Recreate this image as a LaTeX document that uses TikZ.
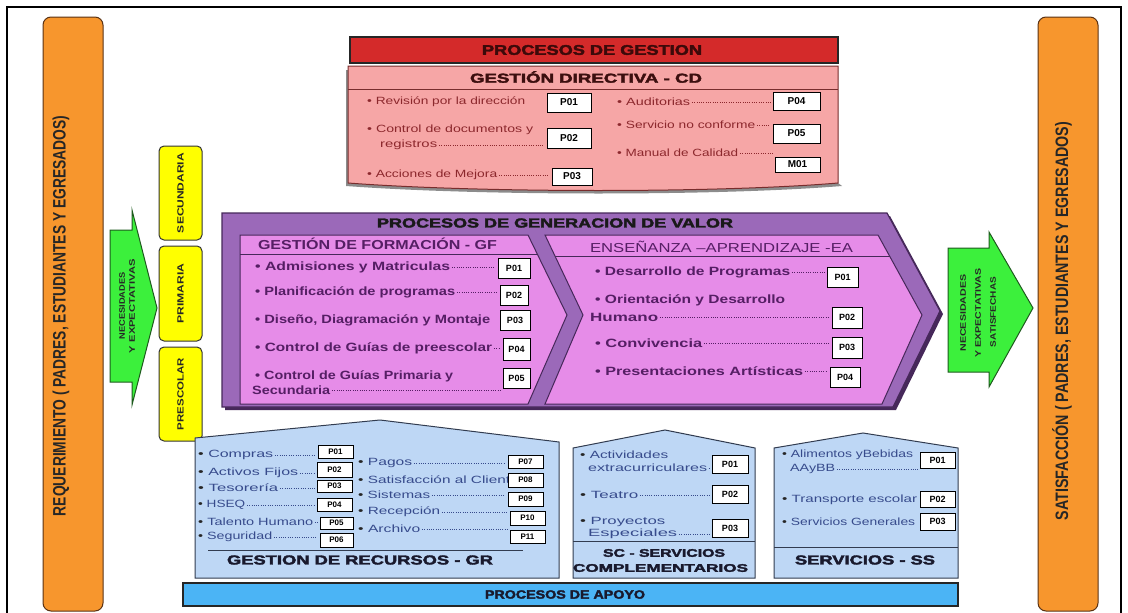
\documentclass[tikz,border=0pt]{standalone}
\usepackage{fontspec}
\setmainfont{Liberation Sans}
\newfontfamily\heavy[FakeBold=2.5]{Liberation Sans}
\usepackage{graphicx}
\usetikzlibrary{calc}
\newsavebox\fitbox
\newcommand\fitto[2]{\sbox\fitbox{#2}\resizebox{#1}{\ht\fitbox}{\usebox\fitbox}}
\newcommand\bl{{\color{black!85}•}}
\definecolor{orng}{RGB}{247,150,45}
\definecolor{orngdk}{RGB}{90,50,20}
\definecolor{grn}{RGB}{60,240,60}
\definecolor{grndk}{RGB}{30,90,30}
\definecolor{yel}{RGB}{255,255,0}
\definecolor{redbar}{RGB}{212,42,42}
\definecolor{pinkbox}{RGB}{246,166,166}
\definecolor{pinkdk}{RGB}{120,45,45}
\definecolor{pinktxt}{RGB}{140,40,45}
\definecolor{purp}{RGB}{155,105,185}
\definecolor{purpdk}{RGB}{70,40,90}
\definecolor{orchid}{RGB}{230,140,232}
\definecolor{purptxt}{RGB}{85,30,100}
\definecolor{lblue}{RGB}{190,215,245}
\definecolor{bluedk}{RGB}{50,60,80}
\definecolor{bluetxt}{RGB}{55,75,140}
\definecolor{bluebar}{RGB}{75,180,245}
\definecolor{ttldark}{RGB}{25,25,45}
\tikzset{
 obar/.style={draw=orngdk, line width=1pt, fill=orng, rounded corners=8pt, inner sep=0pt},
 ybox/.style={draw=black!80, line width=1pt, fill=yel, rounded corners=5pt, inner sep=0pt, rotate=90, font=\bfseries\fontsize{9}{9}\selectfont, text=black!85},
 garrow/.style={draw=grndk, line width=1pt, fill=grn},
 gtext/.style={inner sep=0pt, rotate=90, font=\bfseries\fontsize{8}{8}\selectfont, text=black!85},
 vtext/.style={inner sep=0pt, rotate=90, font=\bfseries\fontsize{18}{18}\selectfont, text=black!85},
 ttl/.style={inner sep=0pt, font=\heavy\bfseries\fontsize{13}{13}\selectfont, text=ttldark},
 pitem/.style={anchor=west, inner sep=0pt, text=pinktxt, font=\fontsize{10.5}{12}\selectfont},
 vitem/.style={anchor=west, inner sep=0pt, text=purptxt, font=\bfseries\fontsize{12}{14}\selectfont},
 bitem/.style={anchor=west, inner sep=0pt, text=bluetxt, font=\fontsize{10.5}{12}\selectfont},
 pbox/.style={draw=black, line width=1pt, fill=white, inner sep=0pt, text=black, font=\bfseries\fontsize{9}{9}\selectfont},
 leader/.style={dash pattern=on 0.7pt off 1.6pt, line width=0.7pt, shorten <=1.5pt, shorten >=2pt},
 sepline/.style={line width=0.8pt},
}
\newcommand\pb[6][]{\node[pbox,#1,minimum width=#4pt,minimum height=#5pt] (#2) at (#3) {#6};}
\newcommand\itm[5]{\node[#1] (#2) at (#3) {\fitto{#4pt}{#5}};}
\newcommand\ld[3][]{\draw[leader,#1] (#2.east) -- (#2.east -| #3.west);}
\begin{document}
\begin{tikzpicture}[x=1pt,y=-1pt]
\useasboundingbox (0,0) rectangle (1128,613);
% outer frame
\draw[line width=1.2pt] (7,625) -- (7,7) -- (1121,7) -- (1121,625);
% side bars
\node[obar, minimum width=60pt, minimum height=594pt] (req) at (73,314) {};
\node[vtext] (reqt) at (61,316) {\fitto{400pt}{REQUERIMIENTO ( PADRES, ESTUDIANTES Y EGRESADOS)}};
\node[obar, minimum width=60pt, minimum height=594pt] (sat) at (1068,314) {};
\node[vtext] (satt) at (1062,321) {\fitto{398pt}{SATISFACCIÓN ( PADRES, ESTUDIANTES Y EGRESADOS)}};
% green arrows
\draw[garrow] (110,230) -- (132,230) -- (132,210) -- (157,308) -- (132,405) -- (132,382) -- (110,382) -- cycle;
\node[gtext] (ga1) at (122,306) {\fitto{67pt}{NECESIDADES}};
\node[gtext] (ga2) at (132,306) {\fitto{94pt}{Y EXPECTATIVAS}};
\draw[garrow] (948,248) -- (989,248) -- (989,232) -- (1033,308) -- (989,387) -- (989,372) -- (948,372) -- cycle;
\node[gtext] (gb1) at (963,313) {\fitto{77pt}{NECESIDADES}};
\node[gtext] (gb2) at (978,313) {\fitto{89pt}{Y EXPECTATIVAS}};
\node[gtext] (gb3) at (993,312) {\fitto{70pt}{SATISFECHAS}};
% yellow level boxes
\node[ybox, minimum width=94pt, minimum height=43pt] (sec) at (180.5,193) {\fitto{80pt}{SECUNDARIA}};
\node[ybox, minimum width=95pt, minimum height=43pt] (pri) at (180.5,293.5) {\fitto{60pt}{PRIMARIA}};
\node[ybox, minimum width=94pt, minimum height=43pt] (pre) at (180.5,394) {\fitto{72pt}{PRESCOLAR}};
% ---------- PROCESOS DE GESTION
\draw[fill=redbar, draw=black!85, line width=1.6pt] (350,37) rectangle (838,63);
\node[ttl, font=\heavy\bfseries\fontsize{14}{14}\selectfont, text={rgb,255:red,60;green,10;blue,10}] (pg) at (592,50) {\fitto{220pt}{PROCESOS DE GESTION}};
\fill[black!45] (346,70) -- (346,186) .. controls (480,196) and (720,196) .. (842,186) -- (838,183) .. controls (720,193) and (480,193) .. (348,183) -- (348,70) -- cycle;
\draw[fill=pinkbox, draw=pinkdk, line width=1pt] (348,66) -- (838,66) -- (838,183) .. controls (720,193) and (480,193) .. (348,183) -- cycle;
\draw[sepline, pinkdk] (348,89) -- (838,89);
\node[ttl, text={rgb,255:red,60;green,15;blue,15}] (cd) at (586,77) {\fitto{232pt}{GESTIÓN DIRECTIVA - CD}};
\itm{pitem}{cd1}{367,102}{158}{• Revisión por la dirección}
\itm{pitem}{cd2}{367,130}{166}{• Control de documentos y}
\itm{pitem}{cd2b}{380,145}{57}{registros}
\itm{pitem}{cd3}{367,175}{130}{• Acciones de Mejora}
\itm{pitem}{cd4}{617,102}{73}{• Auditorias}
\itm{pitem}{cd5}{617,125}{138}{• Servicio no conforme}
\itm{pitem}{cd6}{617,153}{121}{• Manual de Calidad}
\pb[font=\bfseries\fontsize{10}{10}\selectfont]{cdp1}{569,102.5}{44}{19}{P01}
\pb[font=\bfseries\fontsize{10}{10}\selectfont]{cdp2}{569,138}{44}{20}{P02}
\pb[font=\bfseries\fontsize{10}{10}\selectfont]{cdp3}{572,176.5}{40}{17}{P03}
\pb[font=\bfseries\fontsize{10}{10}\selectfont]{cdp4}{796.5,101}{47}{18}{P04}
\pb[font=\bfseries\fontsize{10}{10}\selectfont]{cdp5}{796.5,133.5}{47}{19}{P05}
\pb[font=\bfseries\fontsize{10}{10}\selectfont]{cdm1}{797.5,164.5}{45}{15}{M01}
\ld[pinktxt]{cd2b}{cdp2}
\ld[pinktxt]{cd3}{cdp3}
\ld[pinktxt]{cd4}{cdp4}
\ld[pinktxt]{cd5}{cdp5}
\ld[pinktxt]{cd6}{cdm1}
% ---------- PROCESOS DE GENERACION DE VALOR
\fill[purpdk] (225,216) -- (890,216) -- (943,314) -- (896,410) -- (225,410) -- cycle;
\draw[fill=purp, draw=purpdk, line width=1.2pt] (222,213) -- (887,213) -- (940,311) -- (893,407) -- (222,407) -- cycle;
\node[ttl, text=black!90] (gv) at (555,223) {\fitto{356pt}{PROCESOS DE GENERACION DE VALOR}};
\draw[fill=orchid, draw=purpdk, line width=1pt] (240,235) -- (528,235) -- (567,315) -- (528,404) -- (240,404) -- cycle;
\draw[sepline, purpdk] (240,254) -- (537.3,254);
\draw[fill=orchid, draw=purpdk, line width=1pt] (545,235) -- (878,235) -- (922,315) -- (882,404) -- (545,404) -- (583,315) -- cycle;
\draw[sepline, purpdk] (555,256) -- (889.6,256);
\node[inner sep=0pt, font=\bfseries\fontsize{13}{13}\selectfont, text=purptxt] (gf) at (377.5,244) {\fitto{239pt}{GESTIÓN  DE  FORMACIÓN  - GF}};
\node[inner sep=0pt, font=\fontsize{13}{13}\selectfont, text=purptxt] (ea) at (721.5,247) {\fitto{263pt}{ENSEÑANZA  –APRENDIZAJE  -EA}};
\itm{vitem}{gf1}{255,267}{195}{• Admisiones y Matriculas}
\itm{vitem}{gf2}{255,292}{200}{• Planificación de programas}
\itm{vitem}{gf3}{255,320}{235}{• Diseño, Diagramación y Montaje}
\itm{vitem}{gf4}{255,348}{237}{• Control de Guías de preescolar}
\itm{vitem}{gf5}{255,376}{198}{• Control de Guías Primaria y}
\itm{vitem}{gf5b}{252,390}{78}{Secundaria}
\pb{gfp1}{514,268}{32}{20}{P01}
\pb{gfp2}{514,295}{28}{20}{P02}
\pb{gfp3}{515,320}{30}{20}{P03}
\pb{gfp4}{516.5,349}{27}{22}{P04}
\pb{gfp5}{516.5,378}{27}{20}{P05}
\ld[purptxt]{gf1}{gfp1}
\ld[purptxt]{gf2}{gfp2}
\ld[purptxt]{gf4}{gfp4}
\ld[purptxt]{gf5b}{gfp5}
\itm{vitem}{ea1}{595,272}{195}{• Desarrollo de Programas}
\itm{vitem}{ea2}{595,300}{190}{• Orientación y Desarrollo}
\itm{vitem}{ea2b}{590,317}{68}{Humano}
\itm{vitem}{ea3}{595,343}{107}{• Convivencia}
\itm{vitem}{ea4}{595,371}{208}{• Presentaciones Artísticas}
\pb{eap1}{842.5,277}{31}{20}{P01}
\pb{eap2}{847,317.5}{30}{21}{P02}
\pb{eap3}{847,347.5}{30}{21}{P03}
\pb{eap4}{845,377}{30}{20}{P04}
\ld[purptxt]{ea1}{eap1}
\ld[purptxt]{ea2b}{eap2}
\ld[purptxt]{ea3}{eap3}
\ld[purptxt]{ea4}{eap4}
% ---------- support houses
\draw[fill=lblue, draw=bluedk, line width=1pt] (195,438) -- (380,420) -- (559,442) -- (559,578) -- (195,578) -- cycle;
\draw[fill=lblue, draw=bluedk, line width=1pt] (573,448) -- (665,430) -- (755,448) -- (755,578) -- (573,578) -- cycle;
\draw[fill=lblue, draw=bluedk, line width=1pt] (774,448) -- (863,433) -- (958,448) -- (958,578) -- (774,578) -- cycle;
\draw[sepline, bluedk] (208,550) -- (523,550);
\draw[sepline, bluedk] (573,541) -- (755,541);
\draw[sepline, bluedk] (774,547) -- (958,547);
\node[ttl] (gr) at (360,560) {\fitto{266pt}{GESTION DE  RECURSOS - GR}};
\node[ttl, font=\heavy\bfseries\fontsize{11}{11}\selectfont] (sc1) at (664,553) {\fitto{122pt}{SC - SERVICIOS}};
\node[ttl, font=\heavy\bfseries\fontsize{11}{11}\selectfont] (sc2) at (660.5,568) {\fitto{175pt}{COMPLEMENTARIOS}};
\node[ttl] (ss) at (865,560) {\fitto{140pt}{SERVICIOS - SS}};
% GR items
\itm{bitem}{gr1}{198,455}{75}{\bl\ Compras}
\itm{bitem}{gr2}{198,473}{100}{\bl\ Activos Fijos}
\itm{bitem}{gr3}{198,488}{80}{\bl\ Tesorería}
\itm{bitem}{gr4}{198,505}{47}{\bl\ HSEQ}
\itm{bitem}{gr5}{198,522}{115}{\bl\ Talento Humano}
\itm{bitem}{gr6}{198,537}{74}{\bl\ Seguridad}
\itm{bitem}{gr7}{358,463}{54}{\bl\ Pagos}
\itm{bitem}{gr8}{358,480}{152}{\bl\ Satisfacción al Client}
\itm{bitem}{gr9}{358,495}{72}{\bl\ Sistemas}
\itm{bitem}{gr10}{358,512}{82}{\bl\ Recepción}
\itm{bitem}{gr11}{358,529}{62}{\bl\ Archivo}
\pb[font=\bfseries\fontsize{8}{8}\selectfont]{grp1}{335.5,451.5}{35}{13}{P01}
\pb[font=\bfseries\fontsize{8}{8}\selectfont]{grp2}{334.5,469.5}{35}{15}{P02}
\pb[font=\bfseries\fontsize{8}{8}\selectfont]{grp3}{334.5,486}{35}{12}{P03}
\pb[font=\bfseries\fontsize{8}{8}\selectfont]{grp4}{334.5,504.5}{35}{13}{P04}
\pb[font=\bfseries\fontsize{8}{8}\selectfont]{grp5}{336.5,523}{33}{12}{P05}
\pb[font=\bfseries\fontsize{8}{8}\selectfont]{grp6}{336.5,540}{33}{14}{P06}
\pb[font=\bfseries\fontsize{8}{8}\selectfont]{grp7}{525.5,461.5}{35}{13}{P07}
\pb[font=\bfseries\fontsize{8}{8}\selectfont]{grp8}{525.5,480}{35}{14}{P08}
\pb[font=\bfseries\fontsize{8}{8}\selectfont]{grp9}{525.5,499}{35}{14}{P09}
\pb[font=\bfseries\fontsize{8}{8}\selectfont]{grp10}{527.5,518}{35}{14}{P10}
\pb[font=\bfseries\fontsize{8}{8}\selectfont]{grp11}{527.5,536.5}{35}{13}{P11}
\ld[bluetxt]{gr1}{grp1}
\ld[bluetxt]{gr2}{grp2}
\ld[bluetxt]{gr3}{grp3}
\ld[bluetxt]{gr4}{grp4}
\ld[bluetxt]{gr5}{grp5}
\ld[bluetxt]{gr6}{grp6}
\ld[bluetxt]{gr7}{grp7}
\ld[bluetxt]{gr9}{grp9}
\ld[bluetxt]{gr10}{grp10}
\ld[bluetxt]{gr11}{grp11}
% SC items
\itm{bitem}{sc1i}{580,455}{88}{\bl\ Actividades}
\itm{bitem}{sc1b}{588,468}{119}{extracurriculares}
\itm{bitem}{sc2i}{580,495}{58}{\bl\ Teatro}
\itm{bitem}{sc3i}{580,522}{85}{\bl\ Proyectos}
\itm{bitem}{sc3b}{588,534}{89}{Especiales}
\pb{scp1}{730,464}{36}{18}{P01}
\pb{scp2}{730,494}{36}{18}{P02}
\pb{scp3}{730,528}{36}{18}{P03}
\ld[bluetxt]{sc1b}{scp1}
\ld[bluetxt]{sc2i}{scp2}
\ld[bluetxt]{sc3b}{scp3}
% SS items
\itm{bitem}{ss1}{782,455}{131}{\bl\ Alimentos yBebidas}
\itm{bitem}{ss1b}{790,469}{45}{AAyBB}
\itm{bitem}{ss2}{782,500}{135}{\bl\ Transporte escolar}
\itm{bitem}{ss3}{782,522}{133}{\bl\ Servicios Generales}
\pb{ssp1}{937.5,460}{35}{16}{P01}
\pb{ssp2}{937.5,499}{35}{16}{P02}
\pb{ssp3}{937.5,521.5}{35}{17}{P03}
\ld[bluetxt]{ss1b}{ssp1}
% ---------- PROCESOS DE APOYO
\draw[fill=bluebar, draw=black!85, line width=1.6pt] (183,583) rectangle (958,606);
\node[ttl, font=\heavy\bfseries\fontsize{12}{12}\selectfont] (pa) at (565,594.5) {\fitto{160pt}{PROCESOS DE APOYO}};
\end{tikzpicture}
\end{document}
